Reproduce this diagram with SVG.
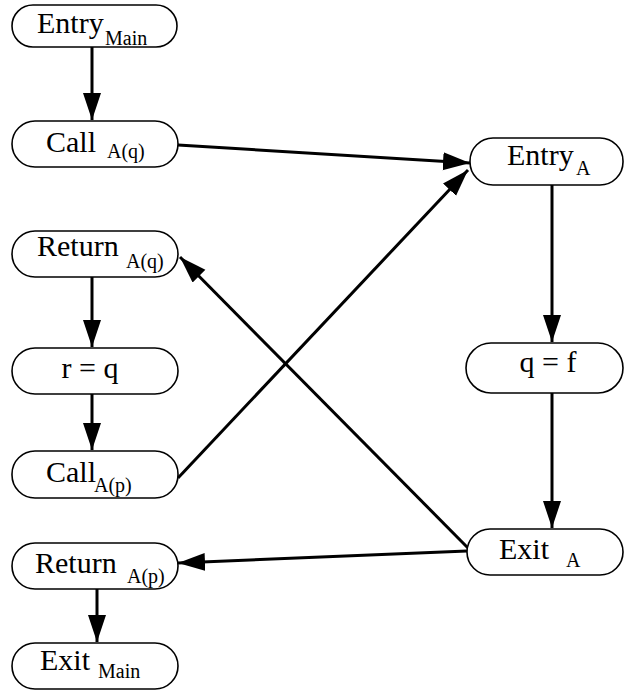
<svg xmlns="http://www.w3.org/2000/svg" width="627" height="691" viewBox="0 0 627 691">
<style>
.box{fill:#fff;stroke:#000;stroke-width:1.6}
.t{font-family:"Liberation Serif","Times New Roman",serif;font-size:30px;fill:#000}
.s{font-family:"Liberation Serif","Times New Roman",serif;font-size:20px;fill:#000}
.e{fill:none;stroke:#000;stroke-width:3}
</style>
<defs>
<marker id="ah" markerUnits="userSpaceOnUse" markerWidth="28" markerHeight="20" refX="27" refY="9" orient="auto">
<path d="M0,0 L27,9 L0,18 z" fill="#000"/>
</marker>
</defs>
<g id="connectors">
<line class="e" x1="92" y1="47" x2="92" y2="120" marker-end="url(#ah)"/>
<line class="e" x1="178" y1="145" x2="470" y2="163" marker-end="url(#ah)"/>
<line class="e" x1="92" y1="277" x2="92" y2="347" marker-end="url(#ah)"/>
<line class="e" x1="92" y1="394" x2="92" y2="450" marker-end="url(#ah)"/>
<line class="e" x1="178" y1="478" x2="468" y2="170" marker-end="url(#ah)"/>
<line class="e" x1="552" y1="185" x2="552" y2="342" marker-end="url(#ah)"/>
<line class="e" x1="552" y1="393" x2="552" y2="528" marker-end="url(#ah)"/>
<line class="e" x1="468" y1="548" x2="180" y2="257" marker-end="url(#ah)"/>
<line class="e" x1="467" y1="551" x2="178" y2="563" marker-end="url(#ah)"/>
<line class="e" x1="97" y1="589" x2="97" y2="642" marker-end="url(#ah)"/>
</g>
<g id="entry_main">
<rect class="box" x="12" y="5" width="165" height="42" rx="21"/>
<text class="t" x="37" y="33">Entry</text><text class="s" x="105" y="45">Main</text>
</g>
<g id="call_aq">
<rect class="box" x="12" y="121" width="166" height="46" rx="23"/>
<text class="t" x="46" y="152">Call</text><text class="s" x="107" y="158">A(q)</text>
</g>
<g id="return_aq">
<rect class="box" x="12" y="231" width="166" height="46" rx="23"/>
<text class="t" x="37" y="256">Return</text><text class="s" x="126" y="268">A(q)</text>
</g>
<g id="r_eq_q">
<rect class="box" x="12" y="348" width="166" height="46" rx="23"/>
<text class="t" x="90" y="378" text-anchor="middle">r = q</text>
</g>
<g id="call_ap">
<rect class="box" x="12" y="451" width="166" height="47" rx="23"/>
<text class="t" x="46" y="482">Call</text><text class="s" x="94" y="492">A(p)</text>
</g>
<g id="return_ap">
<rect class="box" x="12" y="543" width="166" height="46" rx="23"/>
<text class="t" x="35" y="573">Return</text><text class="s" x="127" y="583">A(p)</text>
</g>
<g id="exit_main">
<rect class="box" x="12" y="643" width="166" height="46" rx="23"/>
<text class="t" x="40" y="670">Exit</text><text class="s" x="98" y="678">Main</text>
</g>
<g id="entry_a">
<rect class="box" x="470" y="138" width="153" height="47" rx="23"/>
<text class="t" x="507" y="165">Entry</text><text class="s" x="576" y="175">A</text>
</g>
<g id="q_eq_f">
<rect class="box" x="466" y="343" width="157" height="50" rx="25"/>
<text class="t" x="548" y="372" text-anchor="middle">q = f</text>
</g>
<g id="exit_a">
<rect class="box" x="467" y="529" width="156" height="46" rx="23"/>
<text class="t" x="499" y="559">Exit</text><text class="s" x="566" y="567">A</text>
</g>
</svg>
